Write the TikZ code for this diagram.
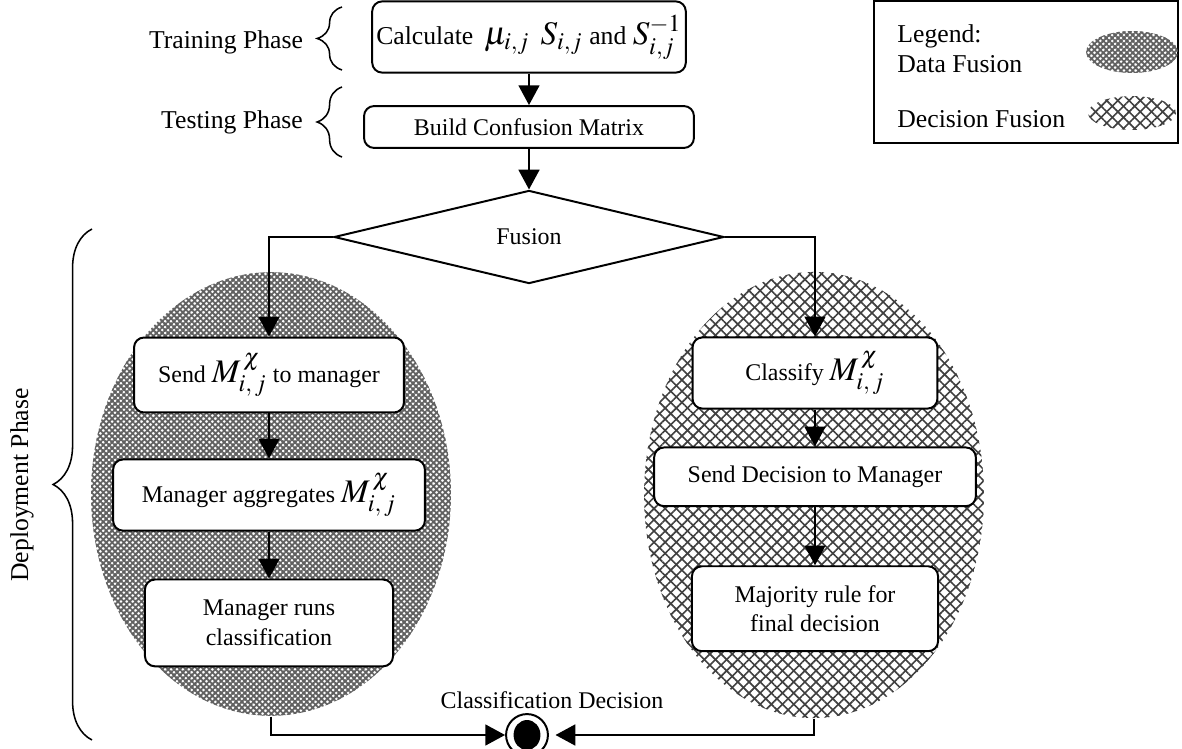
\documentclass[tikz,border=0pt]{standalone}
\usepackage{mathptmx}
\usepackage[no-math]{fontspec}
\setmainfont{Liberation Serif}
\usetikzlibrary{positioning}
\usetikzlibrary{shapes.geometric,arrows.meta,patterns.meta}
\usetikzlibrary{decorations.pathreplacing}

\newcommand{\bigmath}[1]{{\fontsize{15pt}{18pt}\selectfont$#1$}}

\begin{document}
\begin{tikzpicture}[x=0.016cm,y=-0.016cm,font=\fontsize{11.7pt}{13.6pt}\selectfont]

\useasboundingbox (0,0) rectangle (1182,749);

\tikzstyle{procBox}=[rectangle,rounded corners=0.16cm,draw=black,line width=0.9pt,fill=white,align=center,inner sep=0pt,font=\fontsize{10.9pt}{13.4pt}\selectfont];
\tikzstyle{arr}=[-{Triangle[length=9pt,width=9.5pt]},line width=0.9pt];
\tikzstyle{phaseBrace}=[decorate,line width=0.7pt];
\tikzstyle{dataHatch}=[preaction={pattern={Lines[angle=45,distance=1.9pt,line width=0.85pt]},pattern color=black!62},pattern={Lines[angle=-45,distance=1.9pt,line width=0.85pt]},pattern color=black!62];
\tikzstyle{decHatch}=[preaction={pattern={Lines[angle=45,distance=3.6pt,line width=0.75pt]},pattern color=black!75},pattern={Lines[angle=-45,distance=3.6pt,line width=0.75pt]},pattern color=black!75];

% the two fusion zones
\node [ellipse,dataHatch,minimum width=5.76cm,minimum height=7.1cm,inner sep=0] (dzone) at (271,494) {};
\node [ellipse,decHatch,minimum width=5.44cm,minimum height=7.14cm,inner sep=0] (czone) at (814,495) {};

% training / testing
\node [procBox,minimum width=5.02cm,minimum height=1.14cm,font=\fontsize{11.7pt}{13.6pt}\selectfont] (calc) at (529,37) {Calculate\hspace{5pt}\bigmath{\mu_{i,j}}\hspace{5pt}\bigmath{S_{i,j}} and \bigmath{S^{-1}_{i,j}}};
\node [procBox,minimum width=5.28cm,minimum height=0.67cm] (build) at (529,127) {Build Confusion Matrix};
\node [diamond,draw,line width=0.9pt,fill=white,aspect=4.2,minimum width=6.24cm,minimum height=1.49cm,inner sep=0,font=\fontsize{10.9pt}{13.4pt}\selectfont] (fusion) at (529,237) {Fusion};

% data fusion branch
\node [procBox,minimum width=4.32cm,minimum height=1.2cm] (send) at (269,375) {Send \bigmath{M^{\,\chi}_{i,\,j}} to manager};
\node [procBox,minimum width=4.99cm,minimum height=1.14cm,below=0.72cm of send] (aggr) {Manager aggregates\ \bigmath{M^{\,\chi}_{i,\,j}}};
\node [procBox,minimum width=3.97cm,minimum height=1.39cm,below=0.75cm of aggr] (runs) {Manager runs\\classification};

% decision fusion branch
\node [procBox,minimum width=3.92cm,minimum height=1.14cm] (classify) at (815,373) {Classify\ \bigmath{M^{\,\chi}_{i,\,j}}};
\node [procBox,minimum width=5.15cm,minimum height=0.94cm,below=0.59cm of classify] (senddec) {Send Decision to Manager};
\node [procBox,minimum width=3.94cm,minimum height=1.36cm,below=0.93cm of senddec] (major) {Majority rule for\\final decision};

% end state
\node [circle,draw,line width=0.9pt,fill=white,minimum size=0.67cm,inner sep=0] (final) at (527,735) {};
\node [ellipse,fill=black,minimum width=0.43cm,minimum height=0.48cm,inner sep=0] (finalDot) at (final) {};
\node [font=\fontsize{10.9pt}{13.4pt}\selectfont] (decLabel) at (552,700) {Classification Decision};

\draw [arr] (calc) -- (build);
\draw [arr] (build) -- (fusion);
\draw [arr] (fusion.west) -| (send.north);
\draw [arr] (fusion.east) -| (classify.north);
\draw [arr] (send) -- (aggr);
\draw [arr] (aggr) -- (runs);
\draw [arr] (classify) -- (senddec);
\draw [arr] (senddec) -- (major);
\draw [arr] (dzone.south) |- (final.west);
\draw [arr,shorten >=3pt] (czone.south) |- (final.east);

% phases
\draw [phaseBrace,decoration={brace,amplitude=11.3pt}] (342,70) -- (342,7);
\node (trainLbl) at (226,42) {Training Phase};
\draw [phaseBrace,decoration={brace,amplitude=11.3pt}] (342,157) -- (342,87);
\node (testLbl) at (232,122) {Testing Phase};
\draw [phaseBrace,decoration={brace,amplitude=17.7pt}] (92,740) -- (92,229);
\node [rotate=90] (deployLbl) at (22,485) {Deployment Phase};

% legend
\node [draw,line width=0.9pt,minimum width=4.86cm,minimum height=2.26cm] (legend) at (1026,72) {};
\node [anchor=north west,align=left,inner sep=0] (legTitle) at (897,24) {Legend:\\Data Fusion};
\node [anchor=base west,inner sep=0] (legDec) at (897,128) {Decision Fusion};
\node [ellipse,dataHatch,minimum width=1.47cm,minimum height=0.67cm,inner sep=0] (dataKey) at (1132,52) {};
\node [ellipse,decHatch,minimum width=1.41cm,minimum height=0.54cm,inner sep=0] (decKey) at (1132,113) {};

\end{tikzpicture}
\end{document}
